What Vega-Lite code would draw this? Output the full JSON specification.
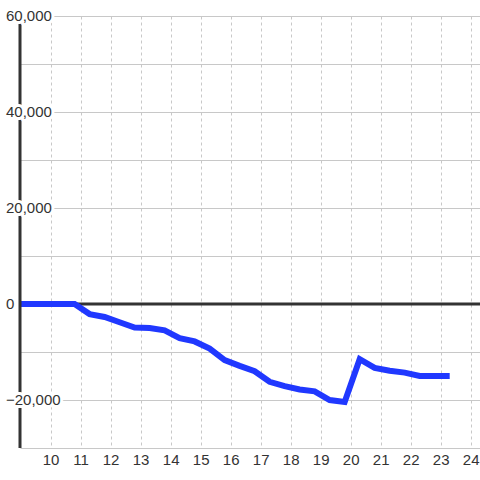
{
  "$schema": "https://vega.github.io/schema/vega-lite/v6.json",
  "width": 460,
  "height": 432,
  "padding": {"left": 20, "top": 16, "right": 0, "bottom": 32},
  "autosize": {"type": "none"},
  "background": "white",
  "config": {"view": {"stroke": null}, "font": "Liberation Sans"},
  "datasets": {
    "series": [
      {"x": 8.8, "y": 0}, {"x": 9.3, "y": 0}, {"x": 9.8, "y": 0}, {"x": 10.3, "y": 0},
      {"x": 10.8, "y": 0}, {"x": 11.3, "y": -2100}, {"x": 11.8, "y": -2700}, {"x": 12.3, "y": -3800},
      {"x": 12.8, "y": -4900}, {"x": 13.3, "y": -5000}, {"x": 13.8, "y": -5500}, {"x": 14.3, "y": -7100},
      {"x": 14.8, "y": -7800}, {"x": 15.3, "y": -9300}, {"x": 15.8, "y": -11700}, {"x": 16.3, "y": -12900},
      {"x": 16.8, "y": -14000}, {"x": 17.3, "y": -16200}, {"x": 17.8, "y": -17100}, {"x": 18.3, "y": -17800},
      {"x": 18.8, "y": -18200}, {"x": 19.3, "y": -20000}, {"x": 19.8, "y": -20400}, {"x": 20.3, "y": -11500},
      {"x": 20.8, "y": -13300}, {"x": 21.3, "y": -13900}, {"x": 21.8, "y": -14300}, {"x": 22.3, "y": -15000},
      {"x": 22.8, "y": -15000}, {"x": 23.3, "y": -15000}
    ],
    "yticks": [{"v": 60000}, {"v": 40000}, {"v": 20000}, {"v": 0}, {"v": -20000}],
    "one": [{"k": 1}]
  },
  "layer": [
    {
      "data": {"name": "one"},
      "mark": {"type": "rule", "color": "#333333", "strokeWidth": 3},
      "encoding": {
        "y": {"datum": 0, "type": "quantitative", "title": null,
              "axis": {"values": [-30000, -20000, -10000, 0, 10000, 20000, 30000, 40000, 50000, 60000], "grid": true, "gridColor": "#c8c8c8", "gridWidth": 1, "labels": false, "domain": false, "ticks": false, "title": null}}
      }
    },
    {
      "data": {"name": "series"},
      "mark": {"type": "line", "color": "#2038ff", "strokeWidth": 6, "clip": true},
      "encoding": {
        "x": {
          "field": "x", "type": "quantitative", "title": null,
          "scale": {"domain": [8.98, 24.31], "nice": false, "zero": false},
          "axis": {"values": [10, 11, 12, 13, 14, 15, 16, 17, 18, 19, 20, 21, 22, 23, 24], "grid": true, "gridDash": [3, 3], "gridColor": "#c8c8c8", "gridWidth": 1, "domain": false, "ticks": false, "title": null, "labelFontSize": 15, "labelColor": "#333333", "labelPadding": 4, "labelFlush": false, "labelOverlap": false, "labelFont": "Liberation Sans"}
        },
        "y": {
          "field": "y", "type": "quantitative", "title": null,
          "scale": {"domain": [-30000, 60000], "nice": false, "zero": false},
          "axis": {"values": [-30000, -20000, -10000, 0, 10000, 20000, 30000, 40000, 50000, 60000], "grid": true, "gridColor": "#c8c8c8", "gridWidth": 1, "labels": false, "domain": false, "ticks": false, "title": null}
        }
      }
    },
    {
      "data": {"name": "one"},
      "mark": {"type": "rule", "color": "#333333", "strokeWidth": 3},
      "encoding": {
        "x": {"datum": 8.98, "type": "quantitative", "title": null,
              "axis": {"values": [10, 11, 12, 13, 14, 15, 16, 17, 18, 19, 20, 21, 22, 23, 24], "grid": true, "gridDash": [3, 3], "gridColor": "#c8c8c8", "gridWidth": 1, "domain": false, "ticks": false, "title": null, "labelFontSize": 15, "labelColor": "#333333", "labelPadding": 4, "labelFlush": false, "labelOverlap": false, "labelFont": "Liberation Sans"}}
      }
    },
    {
      "data": {"name": "yticks"},
      "mark": {"type": "text", "align": "left", "baseline": "middle", "dx": -14, "fontSize": 15, "fill": "white", "stroke": "white", "strokeWidth": 6, "strokeJoin": "round", "font": "Liberation Sans"},
      "encoding": {
        "x": {"datum": 8.98, "type": "quantitative", "title": null,
              "axis": {"values": [10, 11, 12, 13, 14, 15, 16, 17, 18, 19, 20, 21, 22, 23, 24], "grid": true, "gridDash": [3, 3], "gridColor": "#c8c8c8", "gridWidth": 1, "domain": false, "ticks": false, "title": null, "labelFontSize": 15, "labelColor": "#333333", "labelPadding": 4, "labelFlush": false, "labelOverlap": false, "labelFont": "Liberation Sans"}},
        "y": {"field": "v", "type": "quantitative", "title": null,
              "axis": {"values": [-30000, -20000, -10000, 0, 10000, 20000, 30000, 40000, 50000, 60000], "grid": true, "gridColor": "#c8c8c8", "gridWidth": 1, "labels": false, "domain": false, "ticks": false, "title": null}},
        "text": {"field": "v", "type": "quantitative", "format": ","}
      }
    },
    {
      "data": {"name": "yticks"},
      "mark": {"type": "text", "align": "left", "baseline": "middle", "dx": -14, "fontSize": 15, "fill": "#333333", "font": "Liberation Sans"},
      "encoding": {
        "x": {"datum": 8.98, "type": "quantitative", "title": null,
              "axis": {"values": [10, 11, 12, 13, 14, 15, 16, 17, 18, 19, 20, 21, 22, 23, 24], "grid": true, "gridDash": [3, 3], "gridColor": "#c8c8c8", "gridWidth": 1, "domain": false, "ticks": false, "title": null, "labelFontSize": 15, "labelColor": "#333333", "labelPadding": 4, "labelFlush": false, "labelOverlap": false, "labelFont": "Liberation Sans"}},
        "y": {"field": "v", "type": "quantitative", "title": null,
              "axis": {"values": [-30000, -20000, -10000, 0, 10000, 20000, 30000, 40000, 50000, 60000], "grid": true, "gridColor": "#c8c8c8", "gridWidth": 1, "labels": false, "domain": false, "ticks": false, "title": null}},
        "text": {"field": "v", "type": "quantitative", "format": ","}
      }
    }
  ]
}
